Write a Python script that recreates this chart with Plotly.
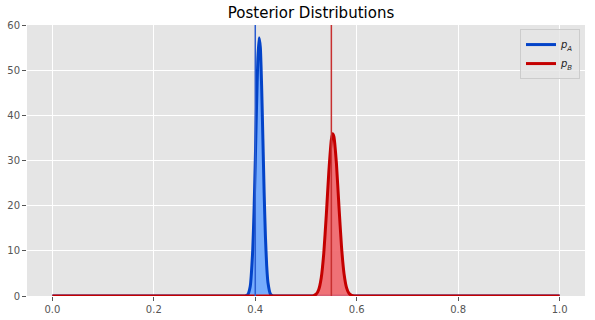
import plotly.graph_objects as go

# Posterior density curves
xa = [0.0, 0.37, 0.375, 0.38, 0.385, 0.39, 0.395, 0.3975, 0.40, 0.4025, 0.405, 0.4075, 0.41, 0.4125,
      0.415, 0.4175, 0.42, 0.4225, 0.425, 0.43, 0.435, 0.44, 0.445, 0.45, 1.0]
ya = [0.0, 0.0, 0.0, 0.0, 0.26, 2.1, 10.2, 18.6, 29.8, 42.1, 52.3, 57.2, 55.0, 46.6,
      34.8, 22.8, 13.2, 6.7, 3.0, 0.41, 0.03, 0.0, 0.0, 0.0, 0.0]
xb = [0.0, 0.50, 0.505, 0.51, 0.515, 0.52, 0.525, 0.53, 0.535, 0.54, 0.545, 0.55, 0.5525, 0.555,
      0.56, 0.565, 0.57, 0.575, 0.58, 0.585, 0.59, 0.595, 0.60, 0.605, 1.0]
yb = [0.0, 0.0, 0.0, 0.0, 0.09, 0.4, 1.4, 4.0, 9.4, 17.9, 27.5, 34.6, 35.9, 35.3,
      29.3, 19.8, 10.9, 4.9, 1.8, 0.54, 0.13, 0.0, 0.0, 0.0, 0.0]
true_a = 0.40
true_b = 0.55
names = ["<i>p</i><sub><i>A</i></sub>", "<i>p</i><sub><i>B</i></sub>"]
xticks = [0.0, 0.2, 0.4, 0.6, 0.8, 1.0]
yticks = [0, 10, 20, 30, 40, 50, 60]

blue = "#0343c8"
red = "#c40000"

fig = go.Figure()
fig.add_trace(go.Scatter(x=xa, y=ya, mode="lines", line=dict(color=blue, width=3, shape="spline", smoothing=0.5),
                         fill="tozeroy", fillcolor="rgba(105,165,255,0.9)", showlegend=False))
fig.add_trace(go.Scatter(x=xb, y=yb, mode="lines", line=dict(color=red, width=3, shape="spline", smoothing=0.5),
                         fill="tozeroy", fillcolor="rgba(240,100,105,0.9)", showlegend=False))
# legend entries (line only)
fig.add_trace(go.Scatter(x=[None], y=[None], mode="lines", line=dict(color=blue, width=3), name=names[0]))
fig.add_trace(go.Scatter(x=[None], y=[None], mode="lines", line=dict(color=red, width=3), name=names[1]))

fig.add_shape(type="line", xref="x", yref="paper", x0=true_a, x1=true_a, y0=0, y1=1,
              line=dict(color="#2a5cd0", width=1.5))
fig.add_shape(type="line", xref="x", yref="paper", x0=true_b, x1=true_b, y0=0, y1=1,
              line=dict(color="#c83030", width=1.5))

axis_common = dict(showgrid=True, gridcolor="white", gridwidth=1, zeroline=False, automargin=False,
                   ticks="outside", ticklen=4, tickcolor="#555555", showline=False,
                   tickfont=dict(family="DejaVu Sans", size=10, color="#555555"))
fig.update_xaxes(range=[-0.05, 1.05], tickvals=xticks, ticktext=[f"{t:.1f}" for t in xticks], **axis_common)
fig.update_yaxes(range=[0, 60], tickvals=yticks, **axis_common)

fig.update_layout(
    width=595, height=320,
    margin=dict(l=27, r=10, t=25, b=24),
    paper_bgcolor="white", plot_bgcolor="#E5E5E5",
    font=dict(family="DejaVu Sans", color="#333333"),
    title=dict(text="Posterior Distributions", xref="paper", x=0.509, xanchor="center",
               yref="container", y=0.961, yanchor="middle",
               font=dict(family="DejaVu Sans", size=15, color="black")),
    legend=dict(x=0.991, y=0.985, xanchor="right", yanchor="top", bgcolor="rgba(229,229,229,0.8)",
                bordercolor="#cccccc", borderwidth=1, itemwidth=30, tracegroupgap=0,
                font=dict(size=10, color="#222222")),
)

fig.write_html("out.html")
